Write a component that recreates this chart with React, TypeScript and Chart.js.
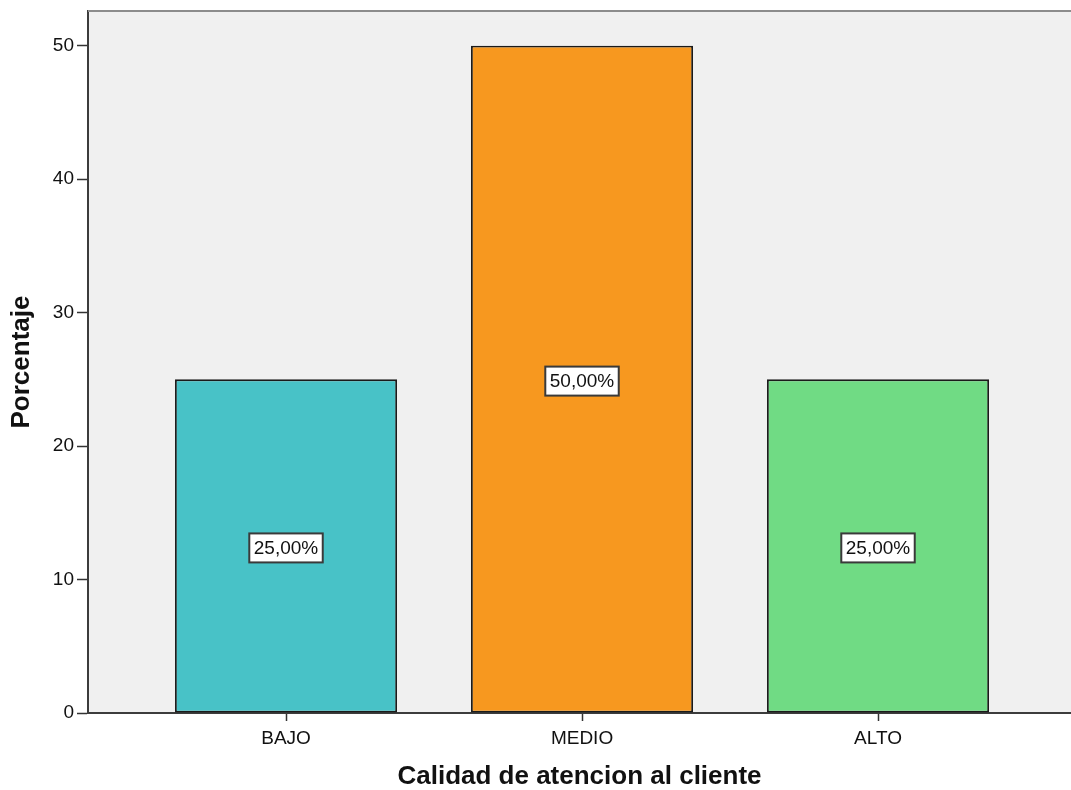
import React, { useEffect, useRef } from "react";
import { Chart, registerables } from "chart.js";

Chart.register(...registerables);

const categories = ["BAJO", "MEDIO", "ALTO"];
const percentages = [25, 50, 25];
const barColors = ["#48C2C7", "#F7981F", "#70DB84"];
const yTicks = [0, 10, 20, 30, 40, 50];

const FONT = "'Liberation Sans', Arial, sans-serif";

const formatPct = (v: number) => v.toFixed(2).replace(".", ",") + "%";

// Grey plot background and the thin frame line along the top
const plotFrame = {
  id: "plotFrame",
  beforeDraw(chart: any) {
    const { ctx, chartArea } = chart;
    ctx.save();
    ctx.fillStyle = "#F0F0F0";
    ctx.fillRect(chartArea.left, chartArea.top, chartArea.right - chartArea.left, chartArea.bottom - chartArea.top);
    ctx.restore();
  },
  afterDraw(chart: any) {
    const { ctx, chartArea } = chart;
    ctx.save();
    ctx.strokeStyle = "#8C8C8C";
    ctx.lineWidth = 2;
    ctx.beginPath();
    ctx.moveTo(chartArea.left, chartArea.top);
    ctx.lineTo(chartArea.right, chartArea.top);
    ctx.stroke();
    ctx.restore();
  },
};

// Boxed percentage labels centred inside each bar
const boxedLabels = {
  id: "boxedLabels",
  afterDatasetsDraw(chart: any) {
    const { ctx } = chart;
    const meta = chart.getDatasetMeta(0);
    ctx.save();
    ctx.font = `19px ${FONT}`;
    ctx.textAlign = "center";
    ctx.textBaseline = "middle";
    meta.data.forEach((bar: any, i: number) => {
      const { x, y, base } = bar.getProps(["x", "y", "base"], true);
      const cy = (y + base) / 2 + 2;
      const text = formatPct(percentages[i]);
      const w = ctx.measureText(text).width + 9;
      const h = 29;
      ctx.fillStyle = "#FFFFFF";
      ctx.fillRect(x - w / 2, cy - h / 2, w, h);
      ctx.strokeStyle = "#3A3A3A";
      ctx.lineWidth = 2;
      ctx.strokeRect(x - w / 2, cy - h / 2, w, h);
      ctx.fillStyle = "#111111";
      ctx.fillText(text, x, cy + 1);
    });
    ctx.restore();
  },
};

export default function App() {
  const canvasRef = useRef<HTMLCanvasElement | null>(null);

  useEffect(() => {
    document.body.style.margin = "0";
    const canvas = canvasRef.current;
    if (!canvas) return;
    const chart = new Chart(canvas, {
      type: "bar",
      data: {
        datasets: [
          {
            data: categories.map((_, i) => ({ x: i, y: percentages[i] })),
            backgroundColor: barColors,
            borderColor: "#1A1A1A",
            borderWidth: 1.8,
            borderSkipped: false,
            barPercentage: 0.75,
            categoryPercentage: 1,
          },
        ],
      },
      options: {
        animation: false,
        responsive: false,
        maintainAspectRatio: false,
        layout: { padding: { top: 11, left: 0, right: 0, bottom: 0 } },
        plugins: {
          legend: { display: false },
          tooltip: { enabled: false },
        },
        scales: {
          x: {
            type: "linear",
            offset: false,
            min: -0.669,
            max: 2.652,
            afterBuildTicks: (scale: any) => {
              scale.ticks = categories.map((_, i) => ({ value: i }));
            },
            afterFit: (scale: any) => {
              scale.height = 77;
              scale.paddingLeft = 0;
              scale.paddingRight = 0;
            },
            ticks: {
              callback: (v: any) => categories[v] ?? "",
              color: "#111111",
              font: { family: FONT, size: 19 },
              padding: 6,
              maxRotation: 0,
            },
            grid: {
              display: true,
              offset: false,
              drawOnChartArea: false,
              drawTicks: true,
              tickLength: 8,
              tickColor: "#333333",
              tickWidth: 1.5,
            },
            border: { display: true, color: "#3C3C3C", width: 2 },
            title: {
              display: true,
              text: "Calidad de atencion al cliente",
              color: "#111111",
              font: { family: FONT, size: 26, weight: "bold", lineHeight: 1.0 },
              padding: { top: 0, bottom: 0 },
            },
          },
          y: {
            min: 0,
            max: 52.6,
            afterBuildTicks: (scale: any) => {
              scale.ticks = yTicks.map((v) => ({ value: v }));
            },
            afterFit: (scale: any) => {
              scale.width = 88;
              scale.paddingTop = 0;
              scale.paddingBottom = 0;
            },
            ticks: {
              color: "#111111",
              font: { family: FONT, size: 19 },
              padding: 3,
            },
            grid: {
              display: true,
              drawOnChartArea: false,
              drawTicks: true,
              tickLength: 11,
              tickColor: "#333333",
              tickWidth: 1.5,
            },
            border: { display: true, color: "#3C3C3C", width: 2 },
            title: {
              display: true,
              text: "Porcentaje",
              color: "#111111",
              font: { family: FONT, size: 26, weight: "bold", lineHeight: 1.0 },
              padding: { top: 9, bottom: 0 },
            },
          },
        },
      },
      plugins: [plotFrame, boxedLabels],
    } as any);
    return () => chart.destroy();
  }, []);

  return (
    <div style={{ width: 1071, height: 790 }}>
      <canvas ref={canvasRef} width={1071} height={790} style={{ display: "block" }} />
    </div>
  );
}
